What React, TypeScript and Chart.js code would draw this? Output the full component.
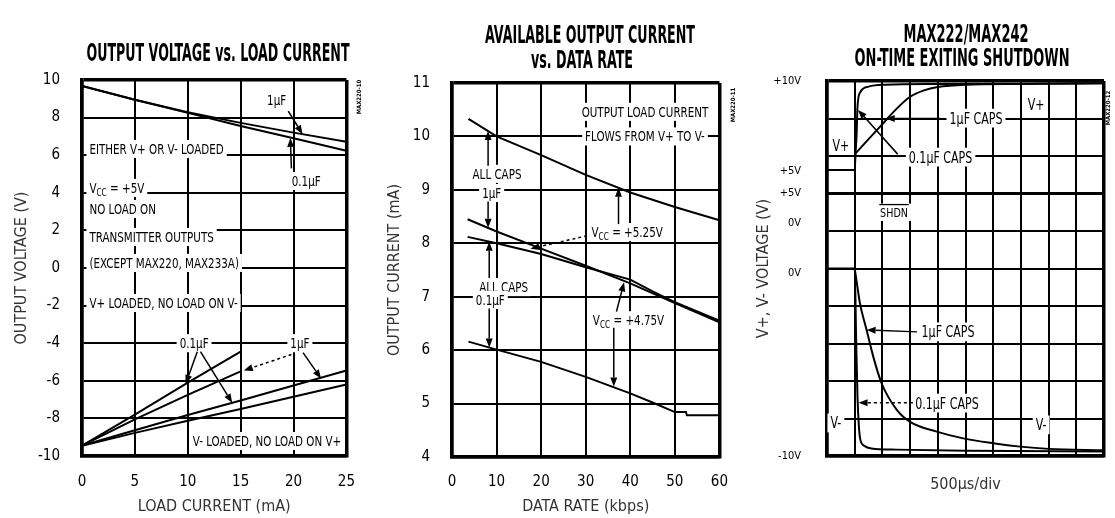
import React, { useEffect, useRef } from "react";
import { Chart, registerables } from "chart.js";

Chart.register(...registerables);

const FONT = "'Liberation Sans Narrow', 'DejaVu Sans Condensed', 'Liberation Sans', Arial, sans-serif";

/* ---------------- Panel 1: OUTPUT VOLTAGE vs. LOAD CURRENT ---------------- */
const p1XTicks = [0, 5, 10, 15, 20, 25];
const p1YTicks = [-10, -8, -6, -4, -2, 0, 2, 4, 6, 8, 10];
const p1LoadCurrent = [0, 5, 10, 15, 20, 25];
const p1LoadCurrentTo15 = [0, 5, 10, 15];
const p1VPlus1uF = [9.68, 8.95, 8.28, 7.72, 7.2, 6.72];
const p1VPlus01uF = [9.68, 8.95, 8.25, 7.55, 6.9, 6.24];
const p1VMinusSteep01uF = [-9.45, -7.8, -6.1, -4.45];
const p1VMinusSteep1uF = [-9.45, -8.05, -6.75, -5.5];
const p1VMinusShallow01uF = [-9.45, -8.63, -7.82, -7.05, -6.25, -5.45];
const p1VMinusShallow1uF = [-9.45, -8.77, -8.12, -7.5, -6.85, -6.2];

/* ---------------- Panel 2: AVAILABLE OUTPUT CURRENT vs. DATA RATE ---------------- */
const p2XTicks = [0, 10, 20, 30, 40, 50, 60];
const p2YTicks = [4, 5, 6, 7, 8, 9, 10, 11];
const p2Rate1uF525 = [3.7, 10, 20, 30, 40, 50, 60];
const p2Cur1uF525 = [10.33, 10.0, 9.65, 9.28, 8.95, 8.68, 8.43];
const p2Rate1uF475 = [3.5, 10, 20, 30, 40, 50, 60];
const p2Cur1uF475 = [8.45, 8.22, 7.9, 7.58, 7.25, 6.88, 6.52];
const p2Rate01uF525 = [3.5, 10, 20, 30, 40, 45, 50, 60];
const p2Cur01uF525 = [8.12, 8.0, 7.8, 7.55, 7.32, 7.1, 6.9, 6.55];
const p2Rate01uF475 = [3.7, 10, 20, 30, 40, 45, 50, 52.5, 52.7, 60];
const p2Cur01uF475 = [6.16, 6.01, 5.78, 5.5, 5.19, 5.02, 4.84, 4.84, 4.78, 4.78];

/* ---------------- Panel 3: MAX222/MAX242 ON-TIME EXITING SHUTDOWN (scope divisions) ---------------- */
const p3XTicks = [0, 1, 2, 3, 4, 5, 6, 7, 8, 9, 10];
const p3YTicks = [0, 1, 2, 3, 4, 5, 6, 7, 8, 9, 10];
const p3YLabelPos = [0, 4.88, 6.21, 7.0, 7.6, 10];
const p3YLabels = ["-10V", "0V", "0V", "+5V", "+5V", "+10V"];
const p3VPlusFastT = [0, 1.0, 1.03, 1.07, 1.1, 1.2, 1.5, 2.1, 4, 7, 10];
const p3VPlusFastV = [7.63, 7.63, 8.07, 8.6, 9.3, 9.7, 9.85, 9.9, 9.92, 9.93, 9.94];
const p3VPlusSlowT = [1.03, 1.5, 2.0, 2.5, 3.0, 3.5, 4.0, 5.0, 7.0, 10];
const p3VPlusSlowV = [8.07, 8.45, 8.85, 9.25, 9.58, 9.75, 9.84, 9.9, 9.92, 9.94];
const p3ShdnT = [0, 10];
const p3ShdnV = [7.0, 7.0];
const p3VMinusFastT = [0, 1.0, 1.05, 1.1, 1.15, 1.2, 1.35, 1.6, 2.5, 5, 10];
const p3VMinusFastV = [5, 5, 3.2, 1.6, 0.8, 0.45, 0.27, 0.2, 0.17, 0.14, 0.12];
const p3VMinusSlowT = [1.0, 1.1, 1.19, 1.43, 1.67, 1.97, 2.52, 3.0, 3.96, 4.92, 6.0, 6.97, 8, 10];
const p3VMinusSlowV = [5, 4.5, 4.07, 3.36, 2.65, 1.94, 1.23, 0.91, 0.65, 0.47, 0.34, 0.25, 0.19, 0.15];

/* ---------------- annotations ---------------- */
type Lbl = { t: string; x: number; y: number; a?: "left" | "center" | "right"; size?: number; over?: boolean };
type Arw = { x1: number; y1: number; x2: number; y2: number; dash?: boolean };
type Ttl = { t: string; cx: number; cy: number; w: number };
type Code = { t: string; x: number; y: number };

const p1Labels: Lbl[] = [
  { t: "1µF", x: 18.4, y: 8.94 },
  { t: "0.1µF", x: 21.2, y: 4.63 },
  { t: "EITHER V+ OR V- LOADED", x: 0.7, y: 6.33, a: "left" },
  { t: "V_{CC} = +5V", x: 0.7, y: 4.26, a: "left" },
  { t: "NO LOAD ON", x: 0.7, y: 3.14, a: "left" },
  { t: "TRANSMITTER OUTPUTS", x: 0.7, y: 1.65, a: "left" },
  { t: "(EXCEPT MAX220, MAX233A)", x: 0.7, y: 0.27, a: "left" },
  { t: "V+ LOADED, NO LOAD ON V-", x: 0.7, y: -1.86, a: "left" },
  { t: "0.1µF", x: 10.6, y: -4.0 },
  { t: "1µF", x: 20.6, y: -4.0 },
  { t: "V- LOADED, NO LOAD ON V+", x: 24.5, y: -9.2, a: "right" },
];
const p1Arrows: Arw[] = [
  { x1: 19.5, y1: 8.35, x2: 20.85, y2: 7.12 },
  { x1: 19.8, y1: 5.3, x2: 19.7, y2: 6.92 },
  { x1: 10.9, y1: -4.45, x2: 9.8, y2: -6.17 },
  { x1: 11.2, y1: -4.45, x2: 14.2, y2: -7.17 },
  { x1: 19.8, y1: -4.6, x2: 15.3, y2: -5.45, dash: true },
  { x1: 20.9, y1: -4.5, x2: 22.6, y2: -5.88 },
];
const p1Titles: Ttl[] = [{ t: "OUTPUT VOLTAGE vs. LOAD CURRENT", cx: 218, cy: 52, w: 263 }];

const p2Labels: Lbl[] = [
  { t: "OUTPUT LOAD CURRENT", x: 43.3, y: 10.46 },
  { t: "FLOWS FROM V+ TO V-", x: 43.3, y: 10.0 },
  { t: "ALL CAPS", x: 10.1, y: 9.3 },
  { t: "1µF", x: 8.9, y: 8.94 },
  { t: "ALL CAPS", x: 11.6, y: 7.18 },
  { t: "0.1µF", x: 8.6, y: 6.94 },
  { t: "V_{CC} = +5.25V", x: 39.3, y: 8.21 },
  { t: "V_{CC} = +4.75V", x: 39.6, y: 6.56 },
];
const p2Arrows: Arw[] = [
  { x1: 8.1, y1: 9.45, x2: 8.1, y2: 10.1 },
  { x1: 8.1, y1: 8.78, x2: 8.1, y2: 8.29 },
  { x1: 8.35, y1: 7.35, x2: 8.35, y2: 8.03 },
  { x1: 8.35, y1: 6.78, x2: 8.35, y2: 6.05 },
  { x1: 37.36, y1: 8.36, x2: 37.36, y2: 9.04 },
  { x1: 30.3, y1: 8.14, x2: 17.6, y2: 7.9, dash: true },
  { x1: 36.9, y1: 6.72, x2: 38.6, y2: 7.27 },
  { x1: 36.3, y1: 6.42, x2: 36.3, y2: 5.32 },
];
const p2Titles: Ttl[] = [
  { t: "AVAILABLE OUTPUT CURRENT", cx: 218, cy: 34, w: 210 },
  { t: "vs. DATA RATE", cx: 210, cy: 59, w: 102 },
];

const p3Labels: Lbl[] = [
  { t: "V+", x: 7.55, y: 9.36 },
  { t: "V+", x: 0.5, y: 8.29 },
  { t: "1µF CAPS", x: 5.38, y: 9.01 },
  { t: "0.1µF CAPS", x: 4.1, y: 7.97 },
  { t: "SHDN", x: 2.42, y: 6.5, over: true, size: 13 },
  { t: "1µF CAPS", x: 4.37, y: 3.31 },
  { t: "0.1µF CAPS", x: 4.33, y: 1.41 },
  { t: "V-", x: 0.32, y: 0.88 },
  { t: "V-", x: 7.73, y: 0.83 },
];
const p3Arrows: Arw[] = [
  { x1: 4.1, y1: 9.0, x2: 2.12, y2: 9.0 },
  { x1: 2.55, y1: 8.05, x2: 1.12, y2: 9.23 },
  { x1: 3.25, y1: 3.31, x2: 1.43, y2: 3.36 },
  { x1: 3.1, y1: 1.42, x2: 1.14, y2: 1.42, dash: true },
];
const p3Titles: Ttl[] = [
  { t: "MAX222/MAX242", cx: 222, cy: 33, w: 125 },
  { t: "ON-TIME EXITING SHUTDOWN", cx: 218, cy: 57, w: 215 },
];

/* ---------------- drawing helpers ---------------- */
let narrowOK: boolean | null = null;
function hasNarrow(ctx: CanvasRenderingContext2D) {
  if (narrowOK === null) {
    ctx.save();
    ctx.font = "20px 'Liberation Sans Narrow', monospace";
    const a = ctx.measureText("MWMWMWabcdef").width;
    ctx.font = "20px monospace";
    const b = ctx.measureText("MWMWMWabcdef").width;
    ctx.restore();
    narrowOK = Math.abs(a - b) > 0.5;
  }
  return narrowOK;
}

function segs(s: string) {
  const out: { t: string; sub: boolean }[] = [];
  const re = /_\{([^}]*)\}/g;
  let last = 0;
  let m: RegExpExecArray | null;
  while ((m = re.exec(s))) {
    if (m.index > last) out.push({ t: s.slice(last, m.index), sub: false });
    out.push({ t: m[1], sub: true });
    last = re.lastIndex;
  }
  if (last < s.length) out.push({ t: s.slice(last), sub: false });
  return out;
}

function drawLabel(ctx: CanvasRenderingContext2D, l: Lbl, px: number, py: number, size: number) {
  const sx = hasNarrow(ctx) ? 1 : 0.82;
  const sg = segs(l.t);
  const fMain = `${size}px ${FONT}`;
  const fSub = `${Math.round(size * 0.72)}px ${FONT}`;
  let w = 0;
  const widths = sg.map((g) => {
    ctx.font = g.sub ? fSub : fMain;
    const ww = ctx.measureText(g.t).width;
    w += ww;
    return ww;
  });
  const W = w * sx;
  const a = l.a || "center";
  const x0 = a === "left" ? px : a === "right" ? px - W : px - W / 2;
  const cap = size * 0.36;
  ctx.save();
  ctx.fillStyle = "#fff";
  ctx.fillRect(x0 - 3, py - cap - 4, W + 6, cap * 2 + 8);
  ctx.translate(x0, py + cap);
  ctx.scale(sx, 1);
  ctx.fillStyle = "#000";
  ctx.textAlign = "left";
  ctx.textBaseline = "alphabetic";
  let cx = 0;
  sg.forEach((g, i) => {
    ctx.font = g.sub ? fSub : fMain;
    ctx.fillText(g.t, cx, g.sub ? size * 0.2 : 0);
    cx += widths[i];
  });
  if (l.over) {
    ctx.strokeStyle = "#000";
    ctx.lineWidth = 1.3;
    ctx.beginPath();
    ctx.moveTo(-1, -cap * 2 - 3);
    ctx.lineTo(w + 1, -cap * 2 - 3);
    ctx.stroke();
  }
  ctx.restore();
}

function drawArrow(ctx: CanvasRenderingContext2D, x1: number, y1: number, x2: number, y2: number, dash?: boolean) {
  const ang = Math.atan2(y2 - y1, x2 - x1);
  const L = 9;
  const Wd = 3.5;
  const bx = x2 - L * Math.cos(ang);
  const by = y2 - L * Math.sin(ang);
  ctx.save();
  ctx.strokeStyle = "#000";
  ctx.fillStyle = "#000";
  ctx.lineWidth = 1.5;
  if (dash) ctx.setLineDash([3, 3]);
  ctx.beginPath();
  ctx.moveTo(x1, y1);
  ctx.lineTo(bx, by);
  ctx.stroke();
  ctx.setLineDash([]);
  ctx.beginPath();
  ctx.moveTo(x2, y2);
  ctx.lineTo(bx + Wd * Math.sin(ang), by - Wd * Math.cos(ang));
  ctx.lineTo(bx - Wd * Math.sin(ang), by + Wd * Math.cos(ang));
  ctx.closePath();
  ctx.fill();
  ctx.restore();
}

function overlayPlugin(labels: Lbl[], arrows: Arw[], titles: Ttl[], code: Code, defSize: number) {
  return {
    id: "overlay",
    beforeDatasetsDraw(chart: any) {
      const { ctx, scales } = chart;
      for (const l of labels) {
        drawLabel(ctx, l, scales.x.getPixelForValue(l.x), scales.y.getPixelForValue(l.y), l.size || defSize);
      }
    },
    afterDatasetsDraw(chart: any) {
      const { ctx, scales } = chart;
      for (const a of arrows) {
        drawArrow(
          ctx,
          scales.x.getPixelForValue(a.x1),
          scales.y.getPixelForValue(a.y1),
          scales.x.getPixelForValue(a.x2),
          scales.y.getPixelForValue(a.y2),
          a.dash
        );
      }
    },
    afterDraw(chart: any) {
      const ctx: CanvasRenderingContext2D = chart.ctx;
      ctx.save();
      ctx.fillStyle = "#000";
      ctx.textAlign = "center";
      ctx.textBaseline = "alphabetic";
      ctx.font = `bold 24px ${FONT}`;
      for (const t of titles) ctx.fillText(t.t, t.cx, t.cy + 24 * 0.36, t.w);
      ctx.translate(code.x, code.y);
      ctx.rotate(-Math.PI / 2);
      ctx.font = `bold 6px ${FONT}`;
      ctx.textBaseline = "middle";
      ctx.fillText(code.t, 0, 0);
      ctx.restore();
    },
  };
}

/* ---------------- chart config helpers ---------------- */
const pts = (xs: number[], ys: number[]) => xs.map((x, i) => ({ x, y: ys[i] }));
const ds = (label: string, xs: number[], ys: number[], extra: any = {}) => ({
  label,
  data: pts(xs, ys),
  borderColor: "#000",
  backgroundColor: "#000",
  borderWidth: 2,
  pointRadius: 0,
  fill: false,
  tension: 0,
  yAxisID: "y",
  ...extra,
});

const gridLW = (w: number, edge: number) => (c: any) =>
  c.index === 0 || c.index === c.scale.ticks.length - 1 ? edge : w;

function axis(o: {
  min: number;
  max: number;
  ticks: number[];
  labels: boolean;
  tickPad?: number;
  tickSize?: number;
  title?: string;
  titlePad?: { top: number; bottom: number };
  fit: number;
  horizontal: boolean;
  gridW?: number;
  edgeW?: number;
}) {
  const gw = o.gridW ?? 2;
  const ew = o.edgeW ?? 3.5;
  return {
    type: "linear",
    position: o.horizontal ? "bottom" : "left",
    min: o.min,
    max: o.max,
    afterBuildTicks: (s: any) => {
      s.ticks = o.ticks.map((v) => ({ value: v }));
    },
    afterFit: (s: any) => {
      if (o.horizontal) s.height = o.fit;
      else s.width = o.fit;
    },
    grid: { color: "#000", lineWidth: gridLW(gw, ew), drawTicks: false },
    border: { display: true, color: "#000", width: ew },
    ticks: {
      display: o.labels,
      color: "#000",
      padding: o.tickPad ?? 0,
      autoSkip: false,
      maxRotation: 0,
      font: { family: FONT, size: o.tickSize ?? 15 },
    },
    title: {
      display: !!o.title,
      text: o.title || "",
      color: "#333",
      font: { family: FONT, size: 16 },
      padding: o.titlePad || { top: 0, bottom: 0 },
    },
  };
}

function baseOptions(pad: { right: number; top: number }, scales: any) {
  return {
    responsive: false,
    animation: false,
    devicePixelRatio: 1,
    events: [],
    layout: { padding: { left: 0, right: pad.right, top: pad.top, bottom: 0 } },
    plugins: { legend: { display: false }, tooltip: { enabled: false }, title: { display: false } },
    scales,
  };
}

function makePanel1(): any {
  return {
    type: "line",
    data: {
      datasets: [
        ds("V+ 1µF", p1LoadCurrent, p1VPlus1uF),
        ds("V+ 0.1µF", p1LoadCurrent, p1VPlus01uF),
        ds("V- 0.1µF (V+ loaded)", p1LoadCurrentTo15, p1VMinusSteep01uF),
        ds("V- 1µF (V+ loaded)", p1LoadCurrentTo15, p1VMinusSteep1uF),
        ds("V- 0.1µF (V- loaded)", p1LoadCurrent, p1VMinusShallow01uF),
        ds("V- 1µF (V- loaded)", p1LoadCurrent, p1VMinusShallow1uF),
      ],
    },
    options: baseOptions(
      { right: 19, top: 80 },
      {
        x: axis({ min: 0, max: 25, ticks: p1XTicks, labels: true, tickPad: 17, title: "LOAD CURRENT (mA)", titlePad: { top: 0, bottom: 1.4 }, fit: 62, horizontal: true }),
        y: axis({ min: -10, max: 10, ticks: p1YTicks, labels: true, tickPad: 22, title: "OUTPUT VOLTAGE (V)", titlePad: { top: 12.4, bottom: 0 }, fit: 82, horizontal: false }),
      }
    ),
    plugins: [overlayPlugin(p1Labels, p1Arrows, p1Titles, { t: "MAX220-10", x: 359, y: 97 }, 14)],
  };
}

function makePanel2(): any {
  return {
    type: "line",
    data: {
      datasets: [
        ds("All caps 1µF, VCC = +5.25V", p2Rate1uF525, p2Cur1uF525),
        ds("All caps 1µF, VCC = +4.75V", p2Rate1uF475, p2Cur1uF475),
        ds("All caps 0.1µF, VCC = +5.25V", p2Rate01uF525, p2Cur01uF525),
        ds("All caps 0.1µF, VCC = +4.75V", p2Rate01uF475, p2Cur01uF475),
      ],
    },
    options: baseOptions(
      { right: 19, top: 83 },
      {
        x: axis({ min: 0, max: 60, ticks: p2XTicks, labels: true, tickPad: 16, title: "DATA RATE (kbps)", titlePad: { top: 0, bottom: 1.4 }, fit: 61, horizontal: true }),
        y: axis({ min: 4, max: 11, ticks: p2YTicks, labels: true, tickPad: 22, title: "OUTPUT CURRENT (mA)", titlePad: { top: 13.4, bottom: 0 }, fit: 80, horizontal: false }),
      }
    ),
    plugins: [overlayPlugin(p2Labels, p2Arrows, p2Titles, { t: "MAX220-11", x: 361, y: 105 }, 14)],
  };
}

function makePanel3(): any {
  const mono = { cubicInterpolationMode: "monotone" };
  const yGrid: any = axis({ min: 0, max: 10, ticks: p3YTicks, labels: false, fit: 0, horizontal: false });
  yGrid.weight = 0;
  const yLab: any = {
    type: "linear",
    position: "left",
    weight: 1,
    min: 0,
    max: 10,
    afterBuildTicks: (s: any) => {
      s.ticks = p3YLabelPos.map((v) => ({ value: v }));
    },
    afterFit: (s: any) => {
      s.width = 83;
    },
    grid: { display: false, drawTicks: false },
    border: { display: false },
    ticks: {
      color: "#000",
      padding: 26,
      autoSkip: false,
      font: { family: FONT, size: 11 },
      callback: (_v: any, i: number) => p3YLabels[i],
    },
    title: {
      display: true,
      text: "V+, V- VOLTAGE (V)",
      color: "#333",
      font: { family: FONT, size: 16 },
      padding: { top: 10.4, bottom: 0 },
    },
  };
  return {
    type: "line",
    data: {
      datasets: [
        ds("SHDN", p3ShdnT, p3ShdnV, { borderWidth: 3 }),
        ds("V+ 0.1µF caps", p3VPlusFastT, p3VPlusFastV, mono),
        ds("V+ 1µF caps", p3VPlusSlowT, p3VPlusSlowV, mono),
        ds("V- 0.1µF caps", p3VMinusFastT, p3VMinusFastV, mono),
        ds("V- 1µF caps", p3VMinusSlowT, p3VMinusSlowV, mono),
      ],
    },
    options: baseOptions(
      { right: 11, top: 81 },
      {
        x: axis({ min: 0, max: 10, ticks: p3XTicks, labels: false, title: "500µs/div", titlePad: { top: 0, bottom: 23.4 }, fit: 62, horizontal: true }),
        y: yGrid,
        yl: yLab,
      }
    ),
    plugins: [overlayPlugin(p3Labels, p3Arrows, p3Titles, { t: "MAX220-12", x: 364, y: 108 }, 15)],
  };
}

function Panel({ left, width, make }: { left: number; width: number; make: () => any }) {
  const ref = useRef<HTMLCanvasElement | null>(null);
  useEffect(() => {
    if (!ref.current) return;
    const chart = new Chart(ref.current, make());
    return () => chart.destroy();
  }, [make]);
  return (
    <canvas
      ref={ref}
      width={width}
      height={518}
      style={{ position: "absolute", left, top: 0, width, height: 518, display: "block" }}
    />
  );
}

export default function App() {
  return (
    <div style={{ position: "absolute", left: 0, top: 0, width: 1115, height: 518, background: "#fff", overflow: "hidden" }}>
      <Panel left={0} width={372} make={makePanel1} />
      <Panel left={372} width={372} make={makePanel2} />
      <Panel left={744} width={371} make={makePanel3} />
    </div>
  );
}
